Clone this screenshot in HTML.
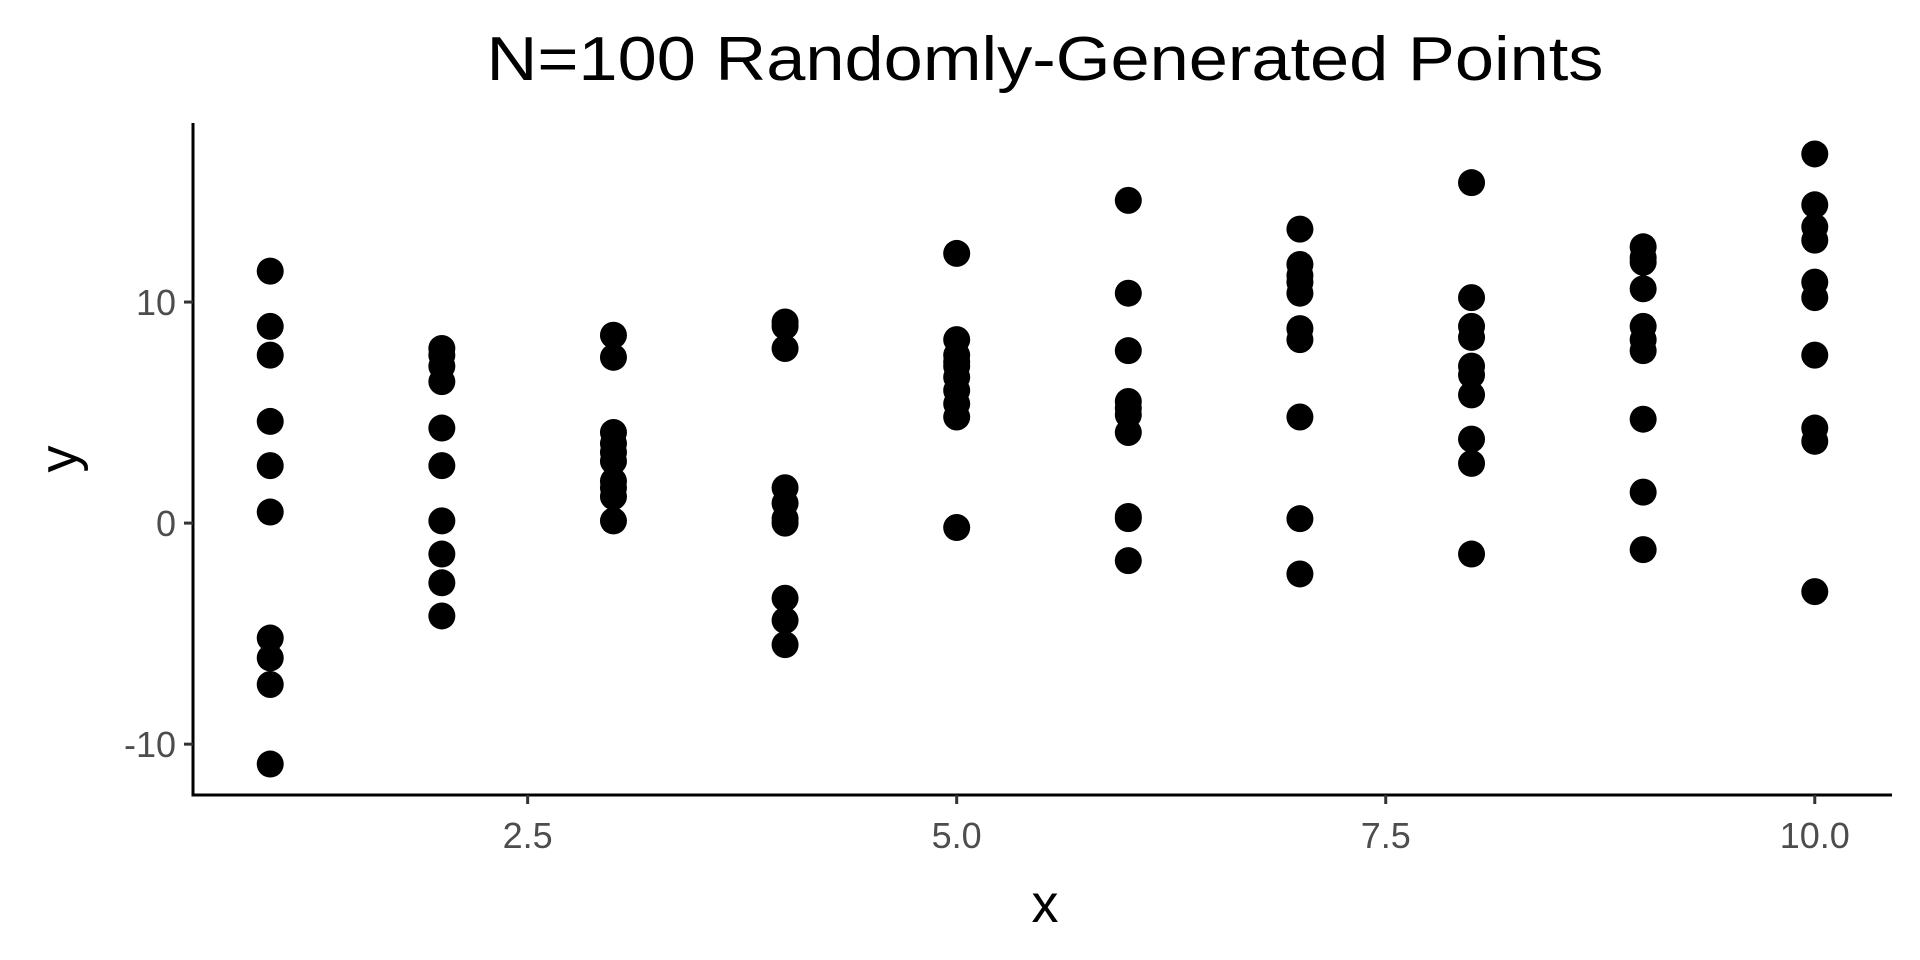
<!DOCTYPE html>
<html><head><meta charset="utf-8"><style>
html,body{margin:0;padding:0;background:#fff;}
svg{display:block;font-family:"Liberation Sans",Arial,sans-serif;}
</style></head><body>
<svg id="chart" width="1920" height="960" viewBox="0 0 1920 960">
<rect width="1920" height="960" fill="#fff"/>
<text x="1045" y="80" font-size="62" text-anchor="middle" textLength="1117" lengthAdjust="spacingAndGlyphs" fill="#000">N=100 Randomly-Generated Points</text>
<g id="plot"></g>
</svg>
<script>
const xCategories = [1,2,3,4,5,6,7,8,9,10];
const yValues = [
 [11.4,8.9,7.6,4.6,2.6,0.5,-5.2,-6.1,-7.3,-10.9],
 [7.9,7.6,7.1,6.4,4.3,2.6,0.1,-1.4,-2.7,-4.2],
 [8.5,7.5,4.1,3.6,3.2,2.8,1.9,1.6,1.2,0.1],
 [9.1,8.9,7.9,1.6,0.9,0.2,0.0,-3.4,-4.4,-5.5],
 [12.2,8.3,7.6,7.3,7.1,6.6,6.0,5.4,4.8,-0.2],
 [14.6,10.4,7.8,5.5,5.2,4.9,4.1,0.3,0.2,-1.7],
 [13.3,11.7,11.2,10.9,10.4,8.8,8.3,4.8,0.2,-2.3],
 [15.4,10.2,8.9,8.4,7.1,6.7,5.8,3.8,2.7,-1.4],
 [12.5,12.0,11.8,10.6,8.9,8.3,7.8,4.7,1.4,-1.2],
 [16.7,14.4,13.4,12.8,10.9,10.2,7.6,4.3,3.7,-3.1]
];
const xTicks = [2.5,5.0,7.5,10.0];
const xTickLabels = ["2.5","5.0","7.5","10.0"];
const yTicks = [-10,0,10];
const yTickLabels = ["-10","0","10"];

const NS = "http://www.w3.org/2000/svg";
const X0 = 193, X1 = 1892, Y0 = 123, Y1 = 795;
const xMin = 0.55, xMax = 10.45, yMin = -12.3, yMax = 18.1;
function sx(v){ return X0 + (v - xMin) / (xMax - xMin) * (X1 - X0); }
function sy(v){ return Y1 - (v - yMin) / (yMax - yMin) * (Y1 - Y0); }
function mk(tag, attrs){ const e = document.createElementNS(NS, tag); for (const k in attrs) e.setAttribute(k, attrs[k]); return e; }
const g = document.getElementById("plot");

xCategories.forEach((xv, i) => {
  yValues[i].forEach(yv => {
    const c = mk("circle", {cx: sx(xv), cy: sy(yv), r: 13.5, fill: "#000"});
    
    
    g.appendChild(c);
  });
});

const ya = mk("line", {x1: X0, y1: Y0, x2: X0, y2: Y1 + 1.5, stroke: "#000", "stroke-width": 3});


g.appendChild(ya);
const xa = mk("line", {x1: X0 - 1.5, y1: Y1, x2: X1, y2: Y1, stroke: "#000", "stroke-width": 3});


g.appendChild(xa);

xTicks.forEach((t, i) => {
  const x = sx(t);
  const tk = mk("line", {x1: x, y1: Y1, x2: x, y2: Y1 + 9, stroke: "#333", "stroke-width": 3});
  
  
  g.appendChild(tk);
  const tx = mk("text", {x: x, y: Y1 + 53, "font-size": 36, "text-anchor": "middle", fill: "#4d4d4d"});
  tx.textContent = xTickLabels[i];
  
  
  g.appendChild(tx);
});
yTicks.forEach((t, i) => {
  const y = sy(t);
  const tk = mk("line", {x1: X0 - 9, y1: y, x2: X0, y2: y, stroke: "#333", "stroke-width": 3});
  
  
  g.appendChild(tk);
  const tx = mk("text", {x: X0 - 17, y: y + 13, "font-size": 36, "text-anchor": "end", fill: "#4d4d4d"});
  tx.textContent = yTickLabels[i];
  
  
  g.appendChild(tx);
});

const xt = mk("text", {x: 1045, y: 922, "font-size": 54, "text-anchor": "middle", fill: "#000"});
xt.textContent = "x";


g.appendChild(xt);
const yt = mk("text", {x: 0, y: 0, "font-size": 54, "text-anchor": "middle", fill: "#000", transform: "translate(77," + ((Y0 + Y1) / 2) + ") rotate(-90)"});
yt.textContent = "y";


g.appendChild(yt);
</script>
</body></html>
